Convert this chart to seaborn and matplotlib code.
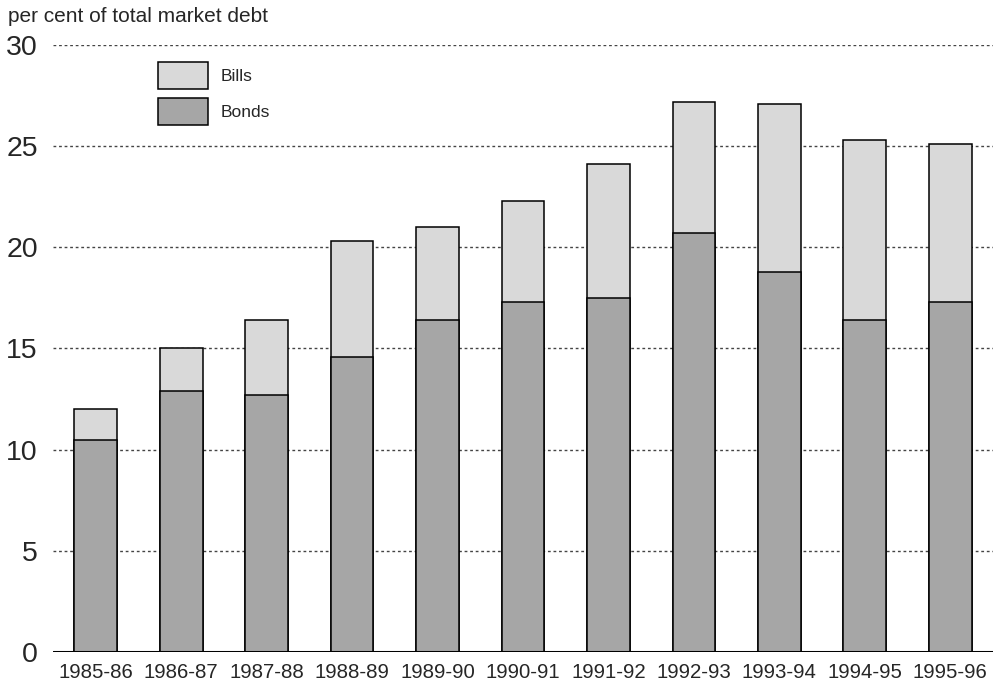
import matplotlib.pyplot as plt
import seaborn as sns
import pandas as pd
import numpy as np

years = ["1985-86", "1986-87", "1987-88", "1988-89", "1989-90", "1990-91",
         "1991-92", "1992-93", "1993-94", "1994-95", "1995-96"]
bonds = [10.5, 12.9, 12.7, 14.6, 16.4, 17.3, 17.5, 20.7, 18.8, 16.4, 17.3]
bills = [1.5, 2.1, 3.7, 5.7, 4.6, 5.0, 6.6, 6.5, 8.3, 8.9, 7.8]

df = pd.DataFrame({"year": years, "Bonds": bonds, "Bills": bills})
df["total"] = df["Bonds"] + df["Bills"]

sns.set_style("white")
plt.rcParams['font.family'] = ['Liberation Sans', 'DejaVu Sans']

fig = plt.figure(figsize=(9.95, 6.89), dpi=100)
ax = fig.add_axes([0.0533, 0.0537, 0.9447, 0.881])

bill_col = "#d9d9d9"
bond_col = "#a6a6a6"

for y in [5, 10, 15, 20, 25, 30]:
    ax.axhline(y, color="#444444", linestyle=(0, (2, 2)), linewidth=1.0, zorder=0)

sns.barplot(data=df, x="year", y="total", color=bill_col, width=0.5,
            edgecolor="black", linewidth=1.1, saturation=1, ax=ax, zorder=2, label="Bills")
sns.barplot(data=df, x="year", y="Bonds", color=bond_col, width=0.5,
            edgecolor="black", linewidth=1.1, saturation=1, ax=ax, zorder=3, label="Bonds")

ax.axhline(0, color="black", linewidth=2.2, zorder=4)

ax.set_xlim(-0.5, 10.5)
ax.set_ylim(0, 30)
ax.set_yticks([0, 5, 10, 15, 20, 25, 30])
ax.tick_params(axis="y", labelsize=20.5, length=0, pad=11)
ax.tick_params(axis="x", labelsize=14.7, length=0, pad=8)
ax.set_xlabel("")
ax.set_ylabel("")
for s in ax.spines.values():
    s.set_visible(False)

fig.text(0.008, 0.99, "per cent of total market debt", fontsize=15, va="top", ha="left")

ax.legend(loc="upper left", bbox_to_anchor=(0.1117, 0.972), frameon=False,
          fontsize=12.5, handlelength=2.9, handleheight=2.05, labelspacing=0.5,
          handletextpad=0.7, borderpad=0, borderaxespad=0)

fig.savefig("out.png", dpi=100)
